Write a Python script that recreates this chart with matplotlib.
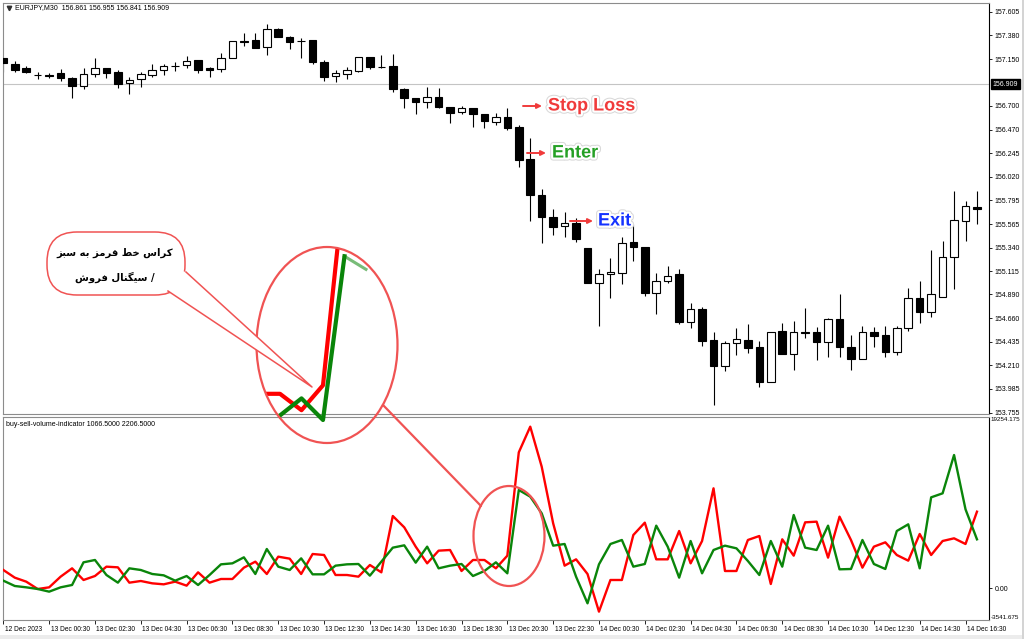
import matplotlib
matplotlib.use('Agg')
import matplotlib.pyplot as plt
import matplotlib.patheffects as pe
from matplotlib.patches import Ellipse, FancyBboxPatch, Polygon, Rectangle
import numpy as np
import pandas as pd

plt.rcParams['font.family'] = ['Liberation Sans', 'DejaVu Sans']

# EURJPY M30 candles, 12 Dec 22:30 -> 14 Dec 17:00
opens = [157.160, 157.102, 157.064, 156.997, 156.992, 157.016, 156.968, 156.891, 157.007, 157.064,
         157.026, 156.920, 156.959, 156.997, 157.045, 157.083, 157.093, 157.141, 157.064, 157.055,
         157.160, 157.323, 157.333, 157.266, 157.439, 157.362, 157.323, 157.333, 157.122, 156.987,
         157.007, 157.035, 157.170, 157.074, 157.083, 156.863, 156.776, 156.738, 156.786, 156.690,
         156.642, 156.680, 156.623, 156.546, 156.594, 156.498, 156.191, 155.845, 155.634, 155.547,
         155.576, 155.336, 155.000, 155.087, 155.096, 155.394, 155.346, 154.904, 155.019, 155.087,
         154.626, 154.751, 154.453, 154.203, 154.424, 154.453, 154.386, 154.050, 154.539, 154.319,
         154.530, 154.530, 154.434, 154.655, 154.386, 154.271, 154.530, 154.501, 154.338, 154.568,
         154.856, 154.722, 154.866, 155.250, 155.595, 155.730]
highs = [157.160, 157.131, 157.083, 157.026, 157.016, 157.055, 156.978, 157.064, 157.160, 157.064,
         157.045, 156.978, 157.026, 157.102, 157.102, 157.122, 157.179, 157.141, 157.074, 157.208,
         157.323, 157.400, 157.400, 157.487, 157.448, 157.371, 157.352, 157.333, 157.141, 157.045,
         157.074, 157.170, 157.170, 157.189, 157.199, 156.872, 156.776, 156.882, 156.872, 156.690,
         156.699, 156.680, 156.623, 156.632, 156.680, 156.517, 156.392, 155.903, 155.710, 155.682,
         155.624, 155.336, 155.134, 155.240, 155.442, 155.567, 155.346, 155.096, 155.163, 155.134,
         154.808, 154.770, 154.530, 154.443, 154.568, 154.607, 154.443, 154.530, 154.616, 154.635,
         154.760, 154.578, 154.664, 154.895, 154.501, 154.587, 154.578, 154.587, 154.587, 154.952,
         155.019, 155.317, 155.403, 155.883, 155.787, 155.883]
lows = [157.026, 157.026, 157.016, 156.959, 156.968, 156.939, 156.776, 156.863, 156.978, 156.968,
        156.872, 156.815, 156.882, 156.978, 156.997, 157.035, 157.064, 157.016, 156.978, 157.026,
        157.160, 157.275, 157.256, 157.189, 157.362, 157.247, 157.160, 157.102, 156.939, 156.930,
        156.959, 157.026, 157.055, 157.064, 156.834, 156.680, 156.623, 156.680, 156.680, 156.536,
        156.623, 156.498, 156.488, 156.517, 156.469, 156.114, 155.595, 155.384, 155.461, 155.442,
        155.394, 155.000, 154.587, 154.856, 154.991, 155.211, 154.876, 154.703, 155.000, 154.607,
        154.568, 154.395, 153.829, 154.155, 154.309, 154.328, 154.002, 154.050, 154.319, 154.165,
        154.472, 154.261, 154.290, 154.290, 154.165, 154.271, 154.386, 154.290, 154.309, 154.539,
        154.616, 154.674, 154.866, 154.943, 155.403, 155.567]
closes = [157.112, 157.045, 157.026, 156.994, 156.990, 156.968, 156.891, 157.007, 157.064, 157.016,
          156.911, 156.949, 157.007, 157.045, 157.083, 157.081, 157.131, 157.045, 157.045, 157.160,
          157.323, 157.314, 157.256, 157.439, 157.362, 157.314, 157.320, 157.122, 156.978, 157.016,
          157.045, 157.170, 157.074, 157.072, 156.863, 156.776, 156.738, 156.786, 156.690, 156.632,
          156.680, 156.623, 156.555, 156.594, 156.488, 156.181, 155.845, 155.634, 155.538, 155.576,
          155.423, 155.000, 155.087, 155.106, 155.384, 155.346, 154.904, 155.019, 155.067, 154.626,
          154.751, 154.443, 154.203, 154.424, 154.463, 154.376, 154.050, 154.530, 154.319, 154.530,
          154.520, 154.434, 154.655, 154.386, 154.271, 154.530, 154.491, 154.338, 154.568, 154.856,
          154.722, 154.895, 155.250, 155.605, 155.739, 155.710]

# buy-sell-volume-indicator buffers
sell_volume = [2074, 1213, 764, -60, 127, 1325, 2261, 951, 1400, 2448,
               2373, 651, 838, 576, 464, 764, 315, 1812, 651, 1063,
               1063, 2336, 3009, 1625, 3571, 3346, 1625, 3870, 3758, 1512,
               1512, 1325, 2635, 1812, 8137, 6865, 4694, 2822, 4245, 4319,
               1961, 3197, 3197, 2261, 3683, 15286, 18169, 13677, 7314, 2560,
               3271, 1625, -2605, 951, 951, 6004, 7389, 3271, 3271, 6453,
               2822, 5330, 11244, 1961, 1961, 5443, 5892, 502, 5518, 3683,
               7426, 7501, 3459, 8062, 5443, 2336, 4694, 5180, 3758, 3122,
               6116, 3758, 5330, 5630, 4993, 8624]
buy_volume = [876, 277, 127, -60, -359, 127, 389, 2935, 3197, 1512,
              651, 2261, 2074, 1625, 1475, 876, 1400, 389, 1512, 2710,
              2822, 3496, 1625, 4432, 2448, 2074, 3384, 1588, 1588, 2560,
              2710, 2747, 1438, 3009, 4582, 4844, 2897, 4694, 2261, 2560,
              2747, 1400, 1961, 2935, 1700, 11057, 10308, 8437, 4806, 4994,
              1325, -1669, 2710, 4994, 5443, 2448, 2747, 7052, 4694, 1213,
              5330, 1700, 4319, 4806, 4507, 3085, 1512, 5330, 2448, 8250,
              4582, 4319, 7052, 2149, 2186, 5443, 2747, 2186, 6453, 7202,
              2261, 10233, 10683, 14987, 8886, 5517]

price_ticks = [157.605, 157.380, 157.150, 156.700, 156.470, 156.245, 156.020, 155.795, 155.565,
               155.340, 155.115, 154.890, 154.660, 154.435, 154.210, 153.985, 153.755]
bid_price = 156.909
ind_max, ind_min = 19254.175, -3541.675

header = 'EURJPY,M30  156.861 156.955 156.841 156.909'
ind_header = 'buy-sell-volume-indicator 1066.5000 2206.5000'
bubble_lines = ['کراس خط قرمز به سبز', '/ سیگنال فروش']

# --- minimal Arabic/Persian shaping (matplotlib has no text shaping) ---
FORMS = {  # isolated, final, initial, medial
    '\u0627': ('\uFE8D', '\uFE8E', None, None),
    '\u0628': ('\uFE8F', '\uFE90', '\uFE91', '\uFE92'),
    '\u062E': ('\uFEA5', '\uFEA6', '\uFEA7', '\uFEA8'),
    '\u0631': ('\uFEAD', '\uFEAE', None, None),
    '\u0632': ('\uFEAF', '\uFEB0', None, None),
    '\u0633': ('\uFEB1', '\uFEB2', '\uFEB3', '\uFEB4'),
    '\u0634': ('\uFEB5', '\uFEB6', '\uFEB7', '\uFEB8'),
    '\u0637': ('\uFEC1', '\uFEC2', '\uFEC3', '\uFEC4'),
    '\u0641': ('\uFED1', '\uFED2', '\uFED3', '\uFED4'),
    '\u0642': ('\uFED5', '\uFED6', '\uFED7', '\uFED8'),
    '\u0644': ('\uFEDD', '\uFEDE', '\uFEDF', '\uFEE0'),
    '\u0645': ('\uFEE1', '\uFEE2', '\uFEE3', '\uFEE4'),
    '\u0646': ('\uFEE5', '\uFEE6', '\uFEE7', '\uFEE8'),
    '\u0647': ('\uFEE9', '\uFEEA', '\uFEEB', '\uFEEC'),
    '\u0648': ('\uFEED', '\uFEEE', None, None),
    '\u06A9': ('\uFB8E', '\uFB8F', '\uFB90', '\uFB91'),
    '\u0643': ('\uFB8E', '\uFB8F', '\uFB90', '\uFB91'),
    '\u06AF': ('\uFB92', '\uFB93', '\uFB94', '\uFB95'),
    '\u06CC': ('\uFBFC', '\uFBFD', '\uFBFE', '\uFBFF'),
    '\u064A': ('\uFBFC', '\uFBFD', '\uFBFE', '\uFBFF'),
}


def shape_rtl(text):
    out = []
    for i, ch in enumerate(text):
        f = FORMS.get(ch)
        if f is None:
            out.append(ch)
            continue
        prev = text[i - 1] if i > 0 else ''
        nxt = text[i + 1] if i + 1 < len(text) else ''
        join_prev = prev in FORMS and FORMS[prev][2] is not None
        join_next = f[2] is not None and nxt in FORMS
        if join_prev and join_next:
            out.append(f[3])
        elif join_prev:
            out.append(f[1])
        elif join_next:
            out.append(f[2])
        else:
            out.append(f[0])
    return ''.join(reversed(out))


W, H = 1024, 639


def fig_rect(x0, y0, x1, y1):
    return [x0 / W, 1 - y1 / H, (x1 - x0) / W, (y1 - y0) / H]


n = len(opens)
x = np.arange(n)
o, h, l, c = map(np.array, (opens, highs, lows, closes))
times = pd.date_range('2023-12-12 22:30', periods=n, freq='30min')
xlim = (-0.03, 86.05)
frame = '#8c8c8c'

fig = plt.figure(figsize=(10.24, 6.39), dpi=100)
fig.patches.append(Rectangle((0, 0), 1, 4 / H, transform=fig.transFigure, fc='#ececec', ec='none'))
fig.patches.append(Rectangle((1 - 2 / W, 0), 2 / W, 1, transform=fig.transFigure, fc='#d4d4d4', ec='none'))

# ---------------- price panel ----------------
ax1 = fig.add_axes(fig_rect(3, 3, 989, 414))
ax1.axhline(bid_price, color='#c4c4c4', lw=0.8, zorder=1)
ax1.vlines(x, l, h, color='black', lw=0.8, zorder=2)
up = c >= o
ax1.bar(x, np.maximum(np.abs(c - o), 0.003), bottom=np.minimum(o, c), width=0.66,
        color=np.where(up, 'white', 'black'), edgecolor='black', linewidth=0.8, zorder=3)
ax1.set_xlim(*xlim)
ax1.set_ylim(153.742, 157.689)
ax1.set_xticks([])
ax1.yaxis.tick_right()
ax1.set_yticks(price_ticks)
ax1.set_yticklabels([f'{p:.3f}' for p in price_ticks])
ax1.tick_params(axis='y', labelsize=5, length=2.5, width=0.6, pad=1.5)
ax1.text(1.004, bid_price, f'{bid_price:.3f}', transform=ax1.get_yaxis_transform(), fontsize=5,
         color='white', va='center', ha='left',
         bbox=dict(boxstyle='square,pad=0.25', fc='black', ec='black'))
for s in ax1.spines.values():
    s.set_color(frame)
    s.set_linewidth(0.8)
ax1.spines['right'].set_color('black')

# ---------------- indicator panel ----------------
ax2 = fig.add_axes(fig_rect(3, 417, 989, 620))
ax2.plot(x, sell_volume, color='#ff0000', lw=1.7, zorder=3)
ax2.plot(x, buy_volume, color='#0a850a', lw=1.7, zorder=4)
ax2.set_xlim(*xlim)
ax2.set_ylim(ind_min, ind_max)
ax2.yaxis.tick_right()
ax2.set_yticks([0])
ax2.set_yticklabels(['0.00'])
ax2.tick_params(axis='y', labelsize=5, length=2.5, width=0.6, pad=1.5)
yt = ax2.get_yaxis_transform()
ax2.text(1.0015, ind_max, f'{ind_max:.3f}', transform=yt, fontsize=4.5, va='top', ha='left')
ax2.text(1.0015, ind_min, f'{ind_min:.3f}', transform=yt, fontsize=4.5, va='bottom', ha='left')
tick_idx = list(range(0, n, 4))
ax2.set_xticks(tick_idx)
ax2.set_xticklabels([])
ax2.tick_params(axis='x', length=3, width=0.6, direction='out')
xt = ax2.get_xaxis_transform()
for i in tick_idx:
    lab = '12 Dec 2023' if i == 0 else times[i].strftime('%d %b %H:%M')
    ax2.text(i + 0.12, -0.045, lab, transform=xt, fontsize=4.8, va='center', ha='left')
for s in ax2.spines.values():
    s.set_color(frame)
    s.set_linewidth(0.8)
ax2.spines['right'].set_color('black')

fig.text(15 / W, 1 - 8 / H, header, fontsize=5, va='center')
fig.text(6 / W, 1 - 424 / H, ind_header, fontsize=5, va='center')

# ---------------- magnified crossing (inside big ellipse) ----------------
ins = fig.add_axes(fig_rect(257, 247, 398, 443))
ins.set_zorder(5)
ins.axis('off')
ins.set_xlim(40.93, 47.49)
ins.set_ylim(386, 11586)
clip = Ellipse((0.5, 0.5), 1, 1, transform=ins.transAxes, fc='none', ec='none')
ins.add_patch(clip)
zoom_end = 47
ln, = ins.plot(x[:zoom_end], sell_volume[:zoom_end], color='#ff0000', lw=3.0)
ln.set_clip_path(clip)
ln, = ins.plot(x[:46], buy_volume[:46], color='#0a850a', lw=3.0)
ln.set_clip_path(clip)
ln, = ins.plot(x[45:zoom_end], buy_volume[45:zoom_end], color='#0a850a', lw=2.2, alpha=0.55)
ln.set_clip_path(clip)

# ---------------- annotation overlay (pixel coords) ----------------
ov = fig.add_axes([0, 0, 1, 1])
ov.set_zorder(10)
ov.set_xlim(0, W)
ov.set_ylim(H, 0)
ov.axis('off')
ov.patch.set_alpha(0)

ov.plot(9, 8, marker='v', ms=3.2, color='#303030')

red_ann = '#f05353'
ov.add_patch(Ellipse((327, 345), 141, 196, fill=False, ec=red_ann, lw=1.6))
ov.add_patch(Ellipse((509, 536), 71, 100, fill=False, ec=red_ann, lw=1.6))
ov.plot([383, 481], [405, 506], color=red_ann, lw=1.6, solid_capstyle='round')

# speech bubble
ov.add_patch(FancyBboxPatch((47, 232), 138, 63, boxstyle='round,pad=0,rounding_size=30',
                            fc='white', ec=red_ann, lw=1.1))
ov.add_patch(Polygon([(186, 272), (312, 387), (168, 291), (164.5, 289), (182, 271)],
                     closed=True, fc='white', ec='none'))
ov.plot([186, 312, 168], [272, 387, 291], color=red_ann, lw=1.1)
for k, line in enumerate(bubble_lines):
    ov.text(115, 253 + 24 * k, shape_rtl(line), family='DejaVu Sans', weight='bold',
            fontsize=7.2, ha='center', va='center', color='black')

# trade markers
glow = [pe.Stroke(linewidth=4.5, foreground='#d9d9d9'), pe.Stroke(linewidth=3, foreground='white'), pe.Normal()]
marks = [('Stop Loss', '#f03b3b', 523, 542, 548, 106),
         ('Enter', '#25a025', 527, 546, 552, 153),
         ('Exit', '#1432ff', 570, 593, 598, 221)]
for label, col, a0, a1, tx, ty in marks:
    ov.annotate('', xy=(a1, ty), xytext=(a0, ty),
                arrowprops=dict(arrowstyle='-|>', color='#f03b3b', lw=1.4, mutation_scale=7,
                                shrinkA=0, shrinkB=0))
    ov.text(tx, ty, label, color=col, fontsize=13, weight='bold', ha='left', va='center',
            family='Liberation Sans', path_effects=glow)

fig.savefig('out.png', dpi=100)
